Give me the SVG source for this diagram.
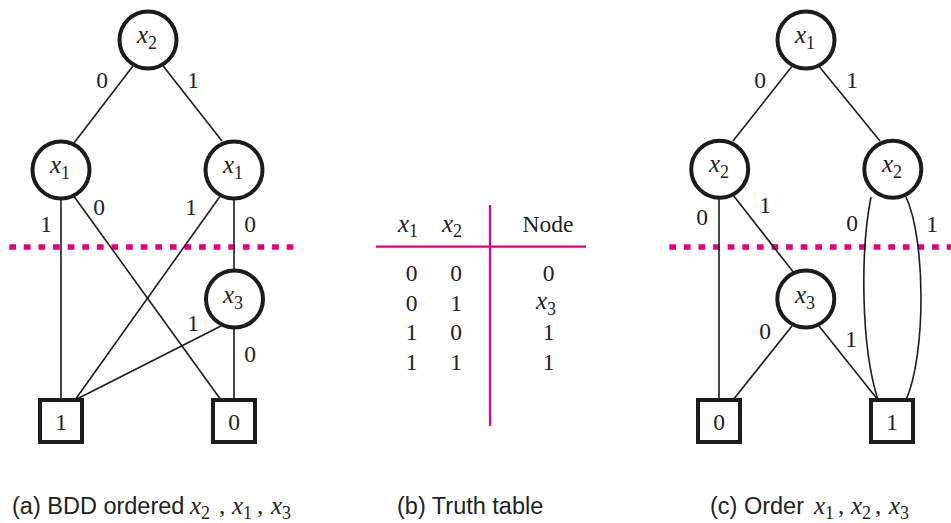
<svg xmlns="http://www.w3.org/2000/svg" width="951" height="523" viewBox="0 0 951 523">
<style>
.edge{stroke:#1c1c1c;stroke-width:1.6;fill:none}
.node circle{fill:#fff;stroke:#1c1c1c;stroke-width:4}
.term rect{fill:#fff;stroke:#1c1c1c;stroke-width:4}
.lbl{font-family:"Liberation Serif","Times New Roman",serif;font-size:23.5px;fill:#222;text-anchor:middle}
.var{font-family:"Liberation Serif","Times New Roman",serif;font-style:italic;font-size:25px;fill:#222}
.sub{font-style:normal;font-size:18px}
.up{font-style:normal}
.cap{font-family:"Liberation Sans",Arial,sans-serif;font-size:23.5px;fill:#222}
.cut{stroke:#e4007c;stroke-width:5.5;stroke-dasharray:6.7 7.9;fill:none}
.tline{stroke:#e4007c;stroke-width:2.2;fill:none}
</style>

<!-- cut lines -->
<g id="cuts">
<line class="cut" x1="9.3" y1="247" x2="293.5" y2="247"/>
<line class="cut" x1="669.3" y1="247" x2="951" y2="247"/>
</g>

<!-- connectors -->
<g id="connectors">
<!-- panel a -->
<line class="edge" x1="136" y1="62" x2="74" y2="143"/>
<line class="edge" x1="160" y1="62" x2="222" y2="141"/>
<line class="edge" x1="61" y1="195" x2="61" y2="400"/>
<line class="edge" x1="73" y1="195" x2="221" y2="400"/>
<line class="edge" x1="221" y1="195" x2="75" y2="400"/>
<line class="edge" x1="234" y1="195" x2="234" y2="272"/>
<line class="edge" x1="221" y1="326" x2="75" y2="400"/>
<line class="edge" x1="234" y1="325" x2="234" y2="400"/>
<!-- panel c -->
<line class="edge" x1="793" y1="65" x2="733" y2="141"/>
<line class="edge" x1="818" y1="65" x2="880" y2="141"/>
<line class="edge" x1="719" y1="195" x2="719" y2="400"/>
<line class="edge" x1="733" y1="195" x2="794" y2="273"/>
<line class="edge" x1="792" y1="326" x2="733" y2="400"/>
<line class="edge" x1="819" y1="326" x2="878" y2="400"/>
<path class="edge" d="M871,197 C860.5,250 860.5,345 878,400"/>
<path class="edge" d="M906,197 C926,240 926,355 906,400"/>
</g>

<!-- edge labels -->
<g id="edge-labels">
<text class="lbl" x="102" y="88">0</text>
<text class="lbl" x="193" y="88">1</text>
<text class="lbl" x="46" y="232">1</text>
<text class="lbl" x="99" y="215">0</text>
<text class="lbl" x="191" y="215">1</text>
<text class="lbl" x="250" y="232">0</text>
<text class="lbl" x="193" y="331">1</text>
<text class="lbl" x="250" y="362">0</text>

<text class="lbl" x="760" y="88">0</text>
<text class="lbl" x="852" y="88">1</text>
<text class="lbl" x="702" y="225">0</text>
<text class="lbl" x="765" y="213">1</text>
<text class="lbl" x="852" y="231">0</text>
<text class="lbl" x="932" y="232">1</text>
<text class="lbl" x="765" y="339">0</text>
<text class="lbl" x="851" y="347">1</text>
</g>

<!-- panel a nodes -->
<g id="a-x2" class="node"><circle cx="148" cy="40" r="28.5"/><text class="var" x="137" y="43">x<tspan class="sub" dy="6">2</tspan></text></g>
<g id="a-x1-left" class="node"><circle cx="61" cy="170" r="28.5"/><text class="var" x="50" y="173">x<tspan class="sub" dy="6">1</tspan></text></g>
<g id="a-x1-right" class="node"><circle cx="234" cy="170" r="28.5"/><text class="var" x="223" y="173">x<tspan class="sub" dy="6">1</tspan></text></g>
<g id="a-x3" class="node"><circle cx="234.5" cy="299" r="28.5"/><text class="var" x="223" y="303">x<tspan class="sub" dy="6">3</tspan></text></g>
<g id="a-one" class="term"><rect x="40" y="400" width="42" height="42"/><text class="lbl" x="61" y="430">1</text></g>
<g id="a-zero" class="term"><rect x="213" y="400" width="42" height="42"/><text class="lbl" x="234" y="430">0</text></g>

<!-- panel c nodes -->
<g id="c-x1" class="node"><circle cx="806" cy="40" r="28.5"/><text class="var" x="795" y="43">x<tspan class="sub" dy="6">1</tspan></text></g>
<g id="c-x2-left" class="node"><circle cx="719.7" cy="169.3" r="28.5"/><text class="var" x="709" y="172">x<tspan class="sub" dy="6">2</tspan></text></g>
<g id="c-x2-right" class="node"><circle cx="892.8" cy="169.3" r="28.5"/><text class="var" x="882" y="172">x<tspan class="sub" dy="6">2</tspan></text></g>
<g id="c-x3" class="node"><circle cx="805.8" cy="299" r="28.5"/><text class="var" x="795" y="303">x<tspan class="sub" dy="6">3</tspan></text></g>
<g id="c-zero" class="term"><rect x="698" y="400" width="42" height="42"/><text class="lbl" x="719" y="430">0</text></g>
<g id="c-one" class="term"><rect x="871" y="400" width="42" height="42"/><text class="lbl" x="892" y="430">1</text></g>

<!-- truth table -->
<g id="truth-table">
<line class="tline" x1="490" y1="205" x2="490" y2="426"/>
<line class="tline" x1="376" y1="246.7" x2="586" y2="246.7"/>
<text class="var" x="398" y="232">x<tspan class="sub" dy="5">1</tspan></text>
<text class="var" x="442" y="232">x<tspan class="sub" dy="5">2</tspan></text>
<text class="lbl" x="548" y="232">Node</text>
<text class="lbl" x="411.5" y="281">0</text><text class="lbl" x="456" y="281">0</text><text class="lbl" x="548.5" y="281">0</text>
<text class="lbl" x="411.5" y="311">0</text><text class="lbl" x="456" y="311">1</text>
<text class="var" x="536" y="309">x<tspan class="sub" dy="6">3</tspan></text>
<text class="lbl" x="411.5" y="340">1</text><text class="lbl" x="456" y="340">0</text><text class="lbl" x="548.5" y="340">1</text>
<text class="lbl" x="411.5" y="370">1</text><text class="lbl" x="456" y="370">1</text><text class="lbl" x="548.5" y="370">1</text>
</g>

<!-- captions -->
<g id="captions">
<text class="cap" x="12" y="514">(a) BDD ordered</text>
<text class="var" y="514"><tspan x="190">x</tspan><tspan class="sub" dy="5">2</tspan><tspan class="up" x="219" dy="-5">,</tspan><tspan x="232">x</tspan><tspan class="sub" dy="5">1</tspan><tspan class="up" x="257" dy="-5">,</tspan><tspan x="271">x</tspan><tspan class="sub" dy="5">3</tspan></text>
<text class="cap" x="397" y="514">(b) Truth table</text>
<text class="cap" x="710" y="514">(c) Order</text>
<text class="var" y="514"><tspan x="814">x</tspan><tspan class="sub" dy="5">1</tspan><tspan class="up" x="838" dy="-5">,</tspan><tspan x="851">x</tspan><tspan class="sub" dy="5">2</tspan><tspan class="up" x="875" dy="-5">,</tspan><tspan x="889">x</tspan><tspan class="sub" dy="5">3</tspan></text>
</g>
</svg>
